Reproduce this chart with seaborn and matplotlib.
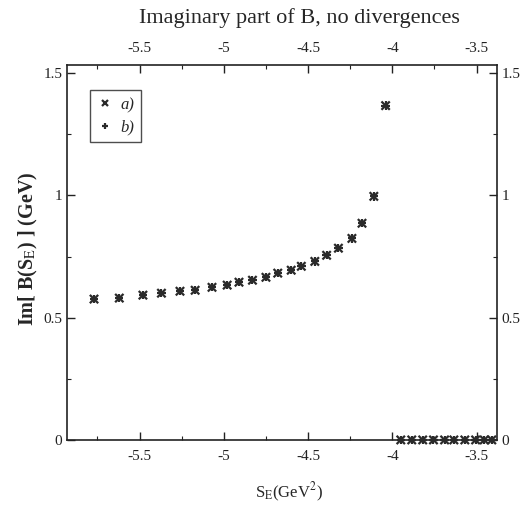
import matplotlib
matplotlib.use("Agg")
import matplotlib.pyplot as plt
import seaborn as sns
import pandas as pd
from matplotlib.ticker import MultipleLocator

# Data
s_e = [-5.77, -5.62, -5.48, -5.37, -5.26, -5.17, -5.07, -4.98, -4.91, -4.83,
       -4.75, -4.68, -4.60, -4.54, -4.46, -4.39, -4.32, -4.24, -4.18, -4.11, -4.04,
       -3.95, -3.885, -3.82, -3.756, -3.69, -3.635, -3.57, -3.506, -3.455, -3.41]
im_b = [0.576, 0.58, 0.592, 0.60, 0.608, 0.612, 0.624, 0.633, 0.645, 0.653,
        0.665, 0.682, 0.694, 0.71, 0.73, 0.755, 0.784, 0.824, 0.886, 0.996, 1.367,
        0, 0, 0, 0, 0, 0, 0, 0, 0, 0]
series_names = ["a)", "b)"]
x_ticks = [-5.5, -5, -4.5, -4, -3.5]
x_tick_labels = ["-5.5", "-5", "-4.5", "-4", "-3.5"]
y_ticks = [0, 0.5, 1, 1.5]
y_tick_labels = ["0", "0.5", "1", "1.5"]

sns.set_style("ticks")
plt.rcParams["font.family"] = ["Liberation Serif", "DejaVu Serif"]
plt.rcParams["mathtext.fontset"] = "stix"

df = pd.concat([
    pd.DataFrame({"s": s_e, "im": im_b, "series": series_names[0]}),
    pd.DataFrame({"s": s_e, "im": im_b, "series": series_names[1]}),
])

fig = plt.figure(figsize=(5.28, 5.08), dpi=100)
ax = fig.add_axes([0.127, 0.134, 0.814, 0.738])

sns.scatterplot(data=df, x="s", y="im", hue="series", style="series",
                markers={"a)": "x", "b)": "+"},
                palette={"a)": "#2a2a2a", "b)": "#2a2a2a"},
                s=36, linewidth=1.6, ax=ax, clip_on=False, zorder=3)

ax.set_xlim(-5.93, -3.38)
ax.set_ylim(0, 1.533)
ax.set_xticks(x_ticks)
ax.set_xticklabels(x_tick_labels)
ax.set_yticks(y_ticks)
ax.set_yticklabels(y_tick_labels)
ax.xaxis.set_minor_locator(MultipleLocator(0.25))
ax.yaxis.set_minor_locator(MultipleLocator(0.25))
for side in ["top", "right", "left", "bottom"]:
    ax.spines[side].set_visible(True)
    ax.spines[side].set_linewidth(1.2)
    ax.spines[side].set_color("#222222")
ax.tick_params(which="both", direction="in", top=True, right=True,
               labeltop=True, labelright=True, labelsize=11, colors="#222222")
ax.tick_params(which="major", length=6, width=1)
ax.tick_params(which="minor", length=3, width=0.8)
ax.tick_params(axis="x", which="major", pad=7)

ax.set_xlabel(r"S$_{\rm E}$(GeV$^2$)", fontsize=12, va="top")
ax.xaxis.set_label_coords(0.516, -0.108)
ax.set_ylabel(r"Im[ B(S$_{\rm E}$) ] (GeV)", fontsize=14.5, fontweight="bold")
ax.yaxis.set_label_coords(-0.062, 0.51)
fig.text(0.568, 0.985, "Imaginary part of B, no divergences", fontsize=16,
         ha="center", va="top")

handles, labels = ax.get_legend_handles_labels()
leg = ax.legend(handles, labels, loc="upper left", bbox_to_anchor=(0.035, 0.955),
                frameon=True, fancybox=False, handletextpad=0.4, handlelength=1.0,
                borderpad=0.4, labelspacing=0.4, prop={"style": "italic", "size": 12},
                markerscale=0.8)
leg.get_frame().set_edgecolor("#222222")
leg.get_frame().set_linewidth(1.0)

fig.savefig("out.png", dpi=100)
